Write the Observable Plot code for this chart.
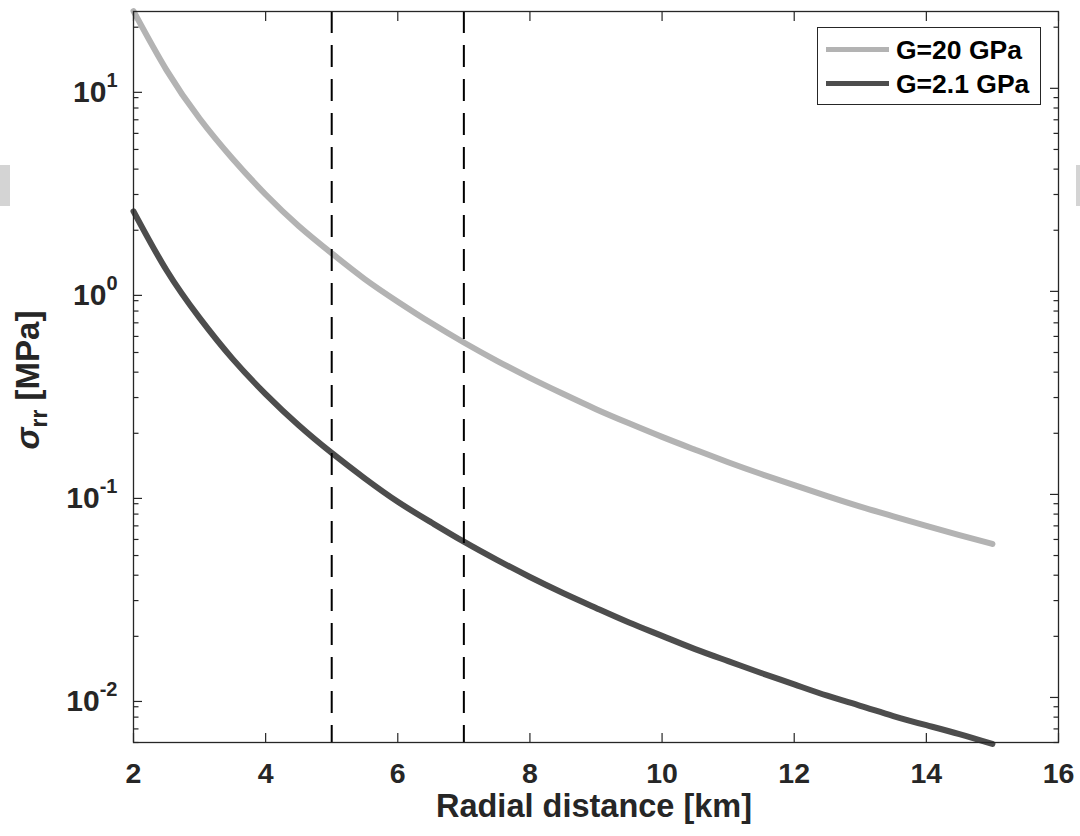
<!DOCTYPE html>
<html><head><meta charset="utf-8">
<script src="https://cdn.jsdelivr.net/npm/d3@7"></script>
<script src="https://cdn.jsdelivr.net/npm/@observablehq/plot@0.6"></script>
<style>
html,body{margin:0;padding:0;background:#fff;}
#wrap{position:relative;width:1080px;height:836px;overflow:hidden;background:#fff;}
.leg{position:absolute;left:817px;top:27px;width:224px;height:78px;border:1.3px solid #262626;background:#fff;box-sizing:border-box;font-family:'Liberation Sans',Arial,sans-serif;font-weight:bold;font-size:26.5px;color:#000;}
.legrow{position:absolute;left:0;height:34px;width:100%;}
.legsw{position:absolute;left:8px;width:63px;height:5px;top:14px;}
.legtx{position:absolute;left:78px;top:0;line-height:34px;white-space:nowrap;}
.edge{position:absolute;background:#d4d4d4;top:165px;height:41px;}
</style></head><body><div id="wrap"></div><script>
// ---- data ----
const radius = [2,2.5,3,3.5,4,4.5,5,5.5,6,6.5,7,7.5,8,8.5,9,9.5,10,10.5,11,11.5,12,12.5,13,13.5,14,14.5,15];
const sigmaG20 = [24,12.3,7.1,4.5,3.0,2.1,1.54,1.15,0.89,0.70,0.56,0.455,0.375,0.313,0.263,0.224,0.192,0.166,0.144,0.126,0.111,0.098,0.087,0.078,0.070,0.063,0.057];
const sigmaG21 = [2.48,1.27,0.74,0.465,0.312,0.219,0.16,0.12,0.092,0.073,0.0585,0.0476,0.0392,0.0327,0.0276,0.0234,0.0201,0.0173,0.0151,0.0132,0.0116,0.0102,0.0091,0.0081,0.0073,0.0066,0.0059];
const seriesNames = ["G=20 GPa","G=2.1 GPa"];
const seriesColors = ["#b3b3b3","#4d4d4d"];
const dashedAt = [5,7];
const xTicks = [2,4,6,8,10,12,14,16];
const yMajor = [0.01,0.1,1,10];
const yMajorLabels = ["10^-2","10^-1","10^0","10^1"];
const yMinor = [0.006,0.007,0.008,0.009,0.02,0.03,0.04,0.05,0.06,0.07,0.08,0.09,0.2,0.3,0.4,0.5,0.6,0.7,0.8,0.9,2,3,4,5,6,7,8,9,20];
const xLabel = "Radial distance [km]";
const yLabel = "σ_rr [MPa]";

const seriesValues = [sigmaG20, sigmaG21];
const rows = [];
seriesNames.forEach((name, i) => radius.forEach((r, j) => rows.push({series: name, r, s: seriesValues[i][j]})));

const axisCol = "#262626";
const common = {label: null, stroke: axisCol, color: axisCol, strokeWidth: 1.2};
const blank = () => "";

const chart = Plot.plot({
  width: 1080, height: 836,
  marginLeft: 133, marginRight: 22, marginTop: 11, marginBottom: 94,
  x: {domain: [2, 16], label: null},
  y: {type: "log", domain: [0.006, 23.9], label: null},
  style: {fontFamily: "'Liberation Sans', Arial, sans-serif", fontWeight: "bold", color: axisCol, background: "#fff", overflow: "visible"},
  marks: [
    ...seriesNames.map((name, i) => Plot.line(rows.filter(d => d.series === name), {x: "r", y: "s", stroke: seriesColors[i], strokeWidth: 6, curve: "natural"})),
    Plot.ruleX(dashedAt, {stroke: "#000", strokeWidth: 2, strokeDasharray: "22,12"}),
    Plot.frame({stroke: axisCol, strokeWidth: 1.3}),
    Plot.axisX(xTicks, {...common, anchor: "bottom", tickSize: -9, tickPadding: 29, fontSize: 28.5, tickFormat: d => String(d)}),
    Plot.axisX(xTicks, {...common, anchor: "top", tickSize: -9, tickFormat: blank}),
    Plot.axisY(yMajor, {...common, anchor: "left", tickSize: -9, tickPadding: 25, fontSize: 30, dy: 4, tickFormat: (d, i) => yMajorLabels[yMajor.indexOf(d)]}),
    Plot.axisY(yMajor, {...common, anchor: "right", tickSize: -9, tickFormat: blank}),
    Plot.axisY(yMinor, {...common, anchor: "left", tickSize: -5.5, tickFormat: blank}),
    Plot.axisY(yMinor, {...common, anchor: "right", tickSize: -5.5, tickFormat: blank}),
    Plot.text([xLabel], {frameAnchor: "bottom", dy: 74, dx: -2, fontSize: 32.5, fontWeight: "bold", fill: axisCol, text: d => d}),
    Plot.text([yLabel], {frameAnchor: "left", rotate: -90, dx: -105, dy: 3, fontSize: 33, fontWeight: "bold", fill: axisCol, text: d => d})
  ]
});

const wrap = document.getElementById("wrap");
wrap.appendChild(chart);

// superscripts / subscripts as real text
const NS = "http://www.w3.org/2000/svg";
chart.querySelectorAll("text").forEach(t => {
  const s = t.textContent;
  if (s.includes("^")) {
    const [base, exp] = s.split("^");
    t.textContent = "";
    const a = document.createElementNS(NS, "tspan"); a.textContent = base;
    const b = document.createElementNS(NS, "tspan"); b.textContent = exp;
    b.setAttribute("dy", "-15"); b.setAttribute("font-size", "20");
    t.appendChild(a); t.appendChild(b);
  } else if (s === yLabel) {
    const [sym, rest] = s.split("_");
    const sub = rest.split(" ")[0];
    const tail = rest.slice(sub.length);
    t.textContent = "";
    const a = document.createElementNS(NS, "tspan"); a.textContent = sym; a.setAttribute("font-style", "italic");
    const b = document.createElementNS(NS, "tspan"); b.textContent = sub; b.setAttribute("dy", "8"); b.setAttribute("font-size", "23");
    const c = document.createElementNS(NS, "tspan"); c.textContent = tail; c.setAttribute("dy", "-8");
    t.appendChild(a); t.appendChild(b); t.appendChild(c);
    // centre the whole label on its anchor point
    t.setAttribute("text-anchor", "start");
    const len = t.getComputedTextLength();
    t.setAttribute("x", String(-len / 2));
  }
});

// legend
const leg = document.createElement("div"); leg.className = "leg";
seriesNames.forEach((name, i) => {
  const row = document.createElement("div"); row.className = "legrow"; row.style.top = (5 + i * 34) + "px";
  const sw = document.createElement("div"); sw.className = "legsw"; sw.style.background = seriesColors[i];
  const tx = document.createElement("div"); tx.className = "legtx"; tx.textContent = name;
  row.appendChild(sw); row.appendChild(tx); leg.appendChild(row);
});
wrap.appendChild(leg);

// light grey edge marks present in the reference image
[[0, 10], [1076, 4]].forEach(([l, w]) => {
  const e = document.createElement("div"); e.className = "edge"; e.style.left = l + "px"; e.style.width = w + "px"; wrap.appendChild(e);
});
</script></body></html>
